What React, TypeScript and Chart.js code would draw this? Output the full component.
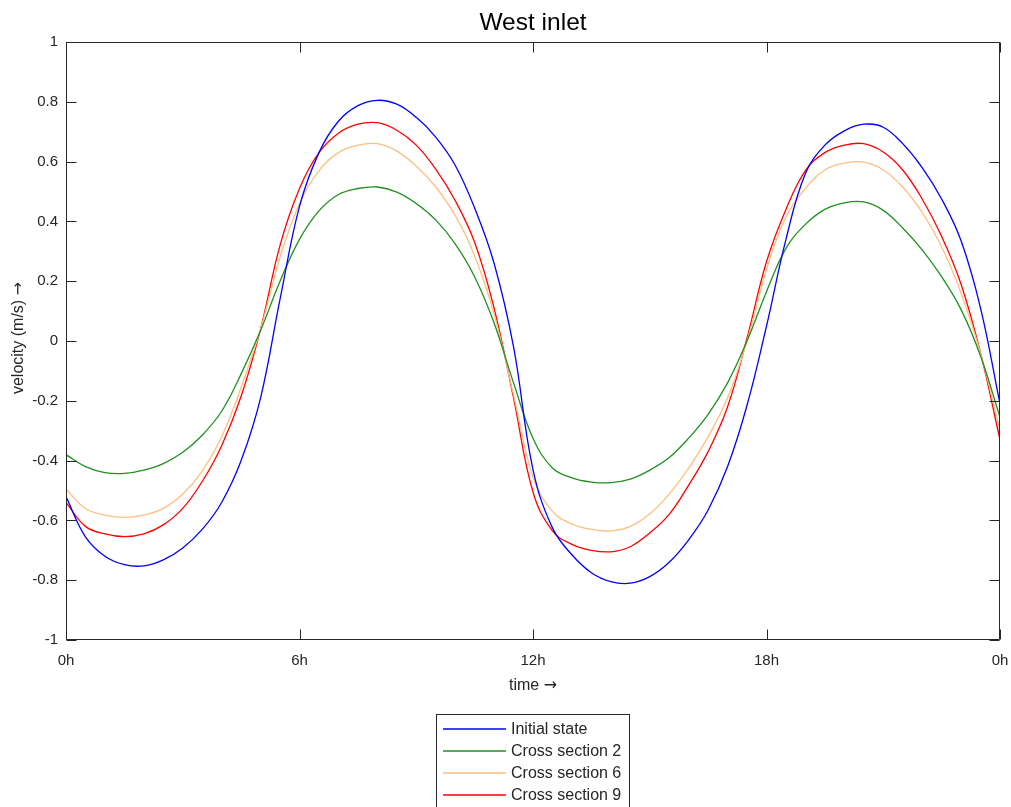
import React, { useEffect, useRef } from "react";
import { Chart, registerables } from "chart.js";

Chart.register(...registerables);

const chartTitle = "West inlet";
const xAxisText = "time";
const yAxisText = "velocity (m/s)";
const axisArrow = "\u2192";

const hours = [
  0, 0.5, 1, 1.5, 2, 2.5, 3, 3.5, 4, 4.5, 5, 5.5, 6, 6.5, 7, 7.5, 8, 8.5, 9, 9.5,
  10, 10.5, 11, 11.5, 12, 12.5, 13, 13.5, 14, 14.5, 15, 15.5, 16, 16.5, 17, 17.5,
  18, 18.5, 19, 19.5, 20, 20.5, 21, 21.5, 22, 22.5, 23, 23.5, 24,
];

const xTickLabels = ["0h", "6h", "12h", "18h", "0h"];

const initialState = [
  -0.52, -0.655, -0.72, -0.748, -0.752, -0.732, -0.692, -0.63, -0.54, -0.4, -0.19, 0.14,
  0.45, 0.63, 0.735, 0.787, 0.805, 0.792, 0.748, 0.682, 0.588, 0.445, 0.26, -0.02,
  -0.43, -0.625, -0.715, -0.775, -0.805, -0.81, -0.788, -0.74, -0.665, -0.565, -0.42, -0.215,
  0.05, 0.34, 0.56, 0.655, 0.703, 0.725, 0.715, 0.66, 0.58, 0.475, 0.335, 0.11, -0.21,
];

const crossSection2 = [
  -0.38, -0.42, -0.44, -0.443, -0.432, -0.41, -0.372, -0.315, -0.235, -0.11, 0.035, 0.2,
  0.34, 0.435, 0.49, 0.51, 0.515, 0.498, 0.46, 0.405, 0.325, 0.215, 0.06, -0.14,
  -0.325, -0.425, -0.458, -0.472, -0.474, -0.462, -0.432, -0.39, -0.325, -0.245, -0.14, 0.0,
  0.165, 0.31, 0.39, 0.44, 0.462, 0.465, 0.437, 0.378, 0.305, 0.215, 0.105, -0.05, -0.255,
];

const crossSection6 = [
  -0.495, -0.56, -0.582, -0.59, -0.582, -0.56, -0.512, -0.435, -0.32, -0.155, 0.04, 0.28,
  0.46, 0.57, 0.63, 0.655, 0.66, 0.635, 0.585, 0.515, 0.42, 0.285, 0.09, -0.18,
  -0.455, -0.57, -0.612, -0.63, -0.635, -0.62, -0.578, -0.512, -0.425, -0.32, -0.19, 0.0,
  0.24, 0.415, 0.51, 0.572, 0.595, 0.598, 0.572, 0.515, 0.43, 0.315, 0.16, -0.04, -0.3,
];

const crossSection9 = [
  -0.54, -0.62, -0.645, -0.654, -0.645, -0.615, -0.56, -0.47, -0.35, -0.185, 0.04, 0.32,
  0.51, 0.63, 0.695, 0.725, 0.73, 0.705, 0.655, 0.575, 0.47, 0.33, 0.11, -0.19,
  -0.505, -0.635, -0.68, -0.7, -0.705, -0.688, -0.642, -0.58, -0.482, -0.37, -0.22, 0.01,
  0.265, 0.44, 0.57, 0.63, 0.655, 0.66, 0.632, 0.572, 0.475, 0.35, 0.19, -0.04, -0.33,
];

const seriesNames = ["Initial state", "Cross section 2", "Cross section 6", "Cross section 9"];
const seriesColors = ["#0000ff", "#1f911f", "#ffbf80", "#ff0000"];
const seriesValues = [initialState, crossSection2, crossSection6, crossSection9];

const AXIS_COLOR = "#262626";
const FONT = '"Liberation Sans", Arial, sans-serif';
const ARROW_FONT = '"DejaVu Sans", sans-serif';

function drawLabelWithArrow(ctx: any, text: string, cx: number, cy: number) {
  ctx.font = `16px ${FONT}`;
  const w1 = ctx.measureText(text + " ").width;
  ctx.font = `16px ${ARROW_FONT}`;
  const w2 = ctx.measureText(axisArrow).width;
  const start = cx - (w1 + w2) / 2;
  ctx.textAlign = "left";
  ctx.textBaseline = "middle";
  ctx.font = `16px ${FONT}`;
  ctx.fillText(text + " ", start, cy);
  ctx.font = `16px ${ARROW_FONT}`;
  ctx.fillText(axisArrow, start + w1, cy);
}

const framePlugin = {
  id: "matlabFrame",
  afterDraw(chart: any) {
    const { ctx, chartArea, scales } = chart;
    const { left, right, top, bottom } = chartArea;
    const xs = scales.x;
    const ys = scales.y;
    ctx.save();
    ctx.strokeStyle = AXIS_COLOR;
    ctx.lineWidth = 1;
    const L = Math.round(left) + 0.5;
    const R = Math.round(right) - 0.5;
    const T = Math.round(top) + 0.5;
    const B = Math.round(bottom) - 0.5;
    ctx.beginPath();
    ctx.rect(L, T, R - L, B - T);
    ctx.stroke();
    const tl = 10;
    ctx.beginPath();
    xs.ticks.forEach((t: any) => {
      const px = Math.round(xs.getPixelForValue(t.value)) + 0.5;
      ctx.moveTo(px, B);
      ctx.lineTo(px, B - tl);
      ctx.moveTo(px, T);
      ctx.lineTo(px, T + tl);
    });
    ys.ticks.forEach((t: any) => {
      const py = Math.round(ys.getPixelForValue(t.value)) + 0.5;
      ctx.moveTo(L, py);
      ctx.lineTo(L + tl, py);
      ctx.moveTo(R, py);
      ctx.lineTo(R - tl, py);
    });
    ctx.stroke();

    // title
    ctx.fillStyle = "#000000";
    ctx.font = `24.5px ${FONT}`;
    ctx.textAlign = "center";
    ctx.textBaseline = "middle";
    ctx.fillText(chartTitle, (left + right) / 2, 23);

    // axis labels
    ctx.fillStyle = AXIS_COLOR;
    drawLabelWithArrow(ctx, xAxisText, (left + right) / 2, 686);
    ctx.save();
    ctx.translate(19, (top + bottom) / 2 - 3);
    ctx.rotate(-Math.PI / 2);
    drawLabelWithArrow(ctx, yAxisText, 0, 0);
    ctx.restore();

    // legend
    const boxL = 436.5;
    const boxT = 714.5;
    const boxW = 193;
    ctx.fillStyle = "#ffffff";
    ctx.fillRect(boxL, boxT, boxW, 120);
    ctx.strokeStyle = AXIS_COLOR;
    ctx.lineWidth = 1;
    ctx.strokeRect(boxL, boxT, boxW, 120);
    ctx.font = `16px ${FONT}`;
    ctx.textAlign = "left";
    ctx.textBaseline = "middle";
    chart.data.datasets.forEach((ds: any, i: number) => {
      const cy = 729 + i * 22;
      ctx.strokeStyle = ds.borderColor;
      ctx.lineWidth = 1.3;
      ctx.beginPath();
      ctx.moveTo(443, cy);
      ctx.lineTo(506, cy);
      ctx.stroke();
      ctx.fillStyle = AXIS_COLOR;
      ctx.fillText(ds.label, 511, cy + 1);
    });
    ctx.restore();
  },
};

export default function App() {
  const canvasRef = useRef<HTMLCanvasElement | null>(null);

  useEffect(() => {
    const canvas = canvasRef.current;
    if (!canvas) return;
    const datasets = seriesNames.map((name, i) => ({
      label: name,
      data: hours.map((h, j) => ({ x: h, y: seriesValues[i][j] })),
      borderColor: seriesColors[i],
      backgroundColor: seriesColors[i],
      borderWidth: 1.3,
      pointRadius: 0,
      tension: 0.4,
      fill: false,
    }));
    const chart = new Chart(canvas, {
      type: "line",
      data: { datasets },
      plugins: [framePlugin],
      options: {
        responsive: false,
        animation: false,
        devicePixelRatio: 1,
        layout: { padding: { top: 42, right: 11, left: 0, bottom: 0 } },
        plugins: {
          legend: { display: false },
          title: { display: false },
          tooltip: { enabled: false },
        },
        scales: {
          x: {
            type: "linear",
            min: 0,
            max: 24,
            grid: { display: false, drawTicks: false },
            border: { display: false },
            ticks: {
              stepSize: 6,
              padding: 12,
              color: AXIS_COLOR,
              font: { family: FONT, size: 15 },
              maxRotation: 0,
              callback: (_v: any, index: number) => xTickLabels[index],
            },
            afterFit: (scale: any) => {
              scale.height = 167;
              scale.paddingLeft = 0;
              scale.paddingRight = 0;
            },
          },
          y: {
            type: "linear",
            min: -1,
            max: 1,
            grid: { display: false, drawTicks: false },
            border: { display: false },
            ticks: {
              stepSize: 0.2,
              padding: 8,
              color: AXIS_COLOR,
              font: { family: FONT, size: 15 },
              callback: (v: any) => String(Number(Number(v).toFixed(1))),
            },
            afterFit: (scale: any) => {
              scale.width = 66;
              scale.paddingTop = 0;
              scale.paddingBottom = 0;
            },
          },
        },
      },
    });
    return () => chart.destroy();
  }, []);

  return (
    <div style={{ position: "fixed", left: 0, top: 0, width: 1011, height: 807, background: "#fff" }}>
      <canvas ref={canvasRef} width={1011} height={807} style={{ width: 1011, height: 807, display: "block" }} />
    </div>
  );
}
